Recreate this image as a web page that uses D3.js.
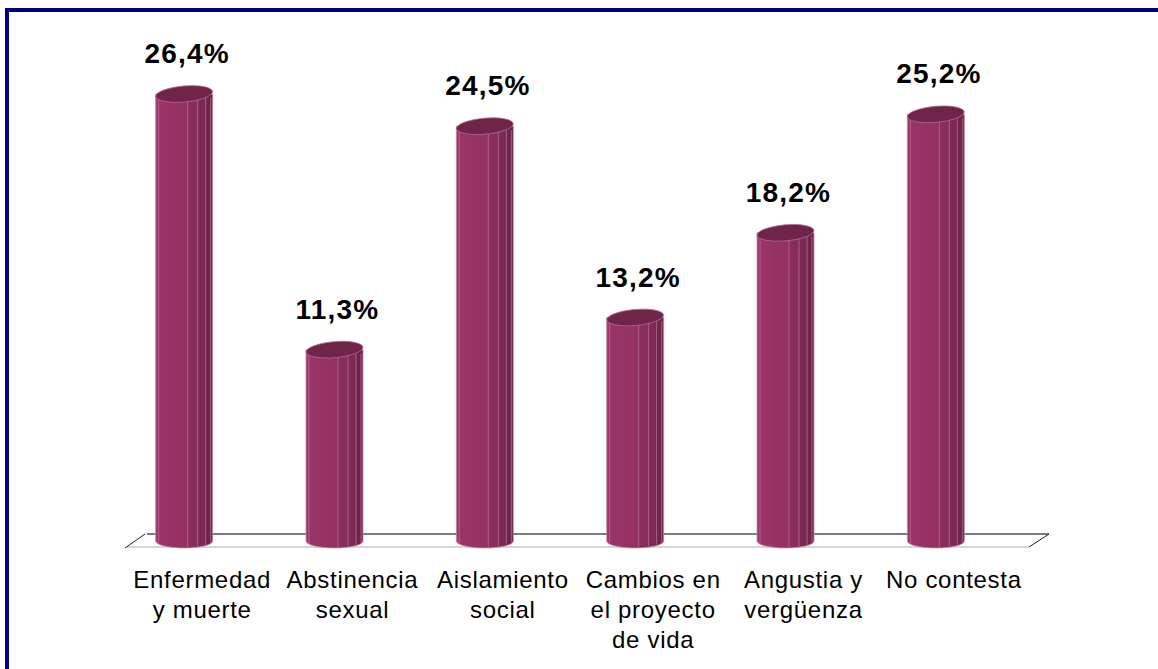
<!DOCTYPE html>
<html>
<head>
<meta charset="utf-8">
<script src="https://cdn.jsdelivr.net/npm/d3@7"></script>
<style>
  html, body { margin: 0; padding: 0; background: #fff; }
  svg { display: block; font-family: Arial, "Liberation Sans", sans-serif; }
</style>
</head>
<body>
<svg id="chart" width="1158" height="669"></svg>
<script>
// Data
const categories = [
  ["Enfermedad", "y muerte"],
  ["Abstinencia", "sexual"],
  ["Aislamiento", "social"],
  ["Cambios en", "el proyecto", "de vida"],
  ["Angustia y", "vergüenza"],
  ["No contesta"]
];
const values = [26.4, 11.3, 24.5, 13.2, 18.2, 25.2];
const valueLabels = ["26,4%", "11,3%", "24,5%", "13,2%", "18,2%", "25,2%"];

const svg = d3.select("#chart");

// Frame
svg.append("rect")
  .attr("x", 7).attr("y", 10)
  .attr("width", 1200).attr("height", 700)
  .attr("fill", "none")
  .attr("stroke", "#000080")
  .attr("stroke-width", 4);

// Floor geometry (front edge and depth offset)
const floorLeft = 127, floorRight = 1029, floorFront = 547, depthX = 20, depthY = -13;

const x = d3.scaleBand()
  .domain(d3.range(categories.length))
  .range([floorLeft, floorRight])
  .paddingInner(0).paddingOuter(0);

const y = d3.scaleLinear().domain([0, 26.4]).range([541, 94]);

// Floor plane
const floor = svg.append("g");
floor.append("line")
  .attr("x1", floorLeft + depthX).attr("y1", floorFront + depthY)
  .attr("x2", floorRight + depthX).attr("y2", floorFront + depthY)
  .attr("stroke", "#505050").attr("stroke-width", 1.3);
floor.append("line")
  .attr("x1", floorLeft).attr("y1", floorFront)
  .attr("x2", floorRight).attr("y2", floorFront)
  .attr("stroke", "#c8c8c8").attr("stroke-width", 1.3);
floor.append("line")
  .attr("x1", floorLeft - 2).attr("y1", floorFront + 1)
  .attr("x2", floorLeft + depthX - 2).attr("y2", floorFront + depthY)
  .attr("stroke", "#222").attr("stroke-width", 1);
floor.append("line")
  .attr("x1", floorRight).attr("y1", floorFront)
  .attr("x2", floorRight + depthX).attr("y2", floorFront + depthY)
  .attr("stroke", "#222").attr("stroke-width", 1);

// Cylinder shading
const defs = svg.append("defs");
const grad = defs.append("linearGradient").attr("id", "cyl")
  .attr("x1", "0").attr("x2", "1").attr("y1", "0").attr("y2", "0");
[
  [0, "#a0386c"], [0.05, "#9a3468"], [0.55, "#93315f"],
  [0.56, "#8a2e5c"], [0.73, "#872d5a"], [0.74, "#7e2a55"],
  [0.88, "#7a2852"], [0.89, "#70254c"], [1, "#6a2347"]
].forEach(([o, c]) => grad.append("stop").attr("offset", o).attr("stop-color", c));

const barW = 57, rx = barW / 2, ry = 7, shift = -18;

const bars = svg.append("g").selectAll("g.bar")
  .data(values)
  .join("g").attr("class", "bar");

bars.each(function (v, i) {
  const g = d3.select(this);
  const cx = x(i) + x.bandwidth() / 2 + shift;
  const x0 = cx - rx, x1 = cx + rx;
  const yTop = y(v), yBot = y(0);

  g.append("path")
    .attr("d", `M${x0},${yTop} L${x0},${yBot} A${rx},${ry} 0 0 0 ${x1},${yBot} L${x1},${yTop} Z`)
    .attr("fill", "url(#cyl)")
    .attr("stroke", "#c58aa8").attr("stroke-width", 0.8);

  // facet highlights
  [3, 32, 42, 50, 55].forEach(dx => {
    g.append("line")
      .attr("x1", x0 + dx).attr("x2", x0 + dx)
      .attr("y1", yTop + 4).attr("y2", yBot + ry * Math.sqrt(Math.max(0, 1 - Math.pow((dx - rx) / rx, 2))) - 1)
      .attr("stroke", "#c07a9c").attr("stroke-width", 0.8).attr("stroke-opacity", 0.85);
  });

  // top cap
  g.append("ellipse")
    .attr("cx", cx).attr("cy", yTop)
    .attr("rx", rx).attr("ry", 8)
    .attr("transform", `rotate(-5,${cx},${yTop})`)
    .attr("fill", "#6f2549")
    .attr("stroke", "#b06a8e").attr("stroke-width", 0.8);

  // value label
  g.append("text")
    .attr("x", cx + 3).attr("y", yTop - 31)
    .attr("text-anchor", "middle")
    .attr("font-size", 28).attr("font-weight", "bold")
    .attr("letter-spacing", 1.2)
    .attr("fill", "#000")
    .text(valueLabels[i]);
});

// Category labels
const catG = svg.append("g").selectAll("text.cat")
  .data(categories)
  .join("text").attr("class", "cat")
  .attr("text-anchor", "middle")
  .attr("font-size", 24)
  .attr("letter-spacing", 0.7)
  .attr("fill", "#000");
catG.each(function (lines, i) {
  const t = d3.select(this);
  lines.forEach((ln, k) => {
    t.append("tspan")
      .attr("x", x(i) + x.bandwidth() / 2)
      .attr("y", 588 + k * 30)
      .text(ln);
  });
});
</script>
</body>
</html>
